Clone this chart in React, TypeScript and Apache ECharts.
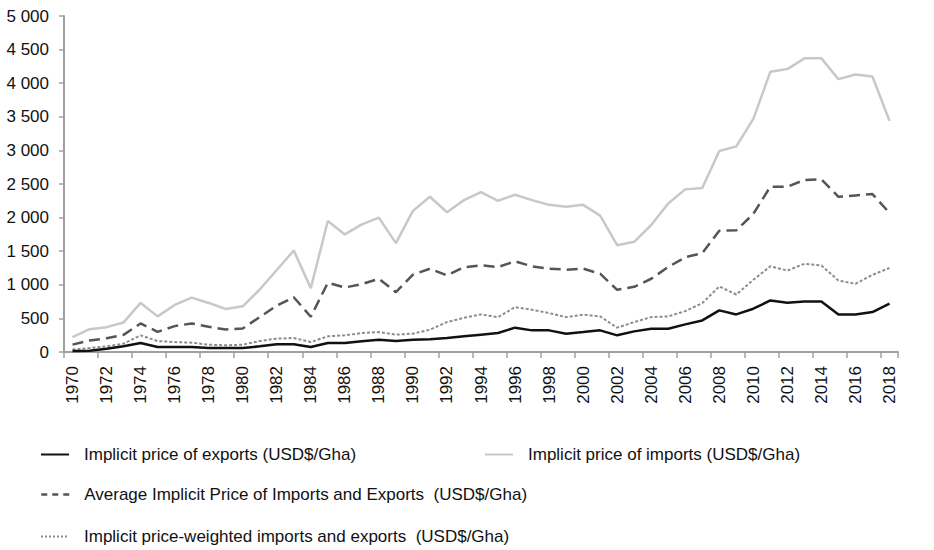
import React, { useEffect, useRef } from "react";
import * as echarts from "echarts";

const years: string[] = [];
for (let y = 1970; y <= 2018; y++) years.push(String(y));

const exportsPrice = [15, 20, 50, 85, 134, 74, 74, 74, 59, 59, 59, 85, 114, 114, 74,
  134, 134, 159, 184, 163, 184, 189, 208, 233, 258, 282, 362, 322, 322, 273, 297, 322,
  248, 307, 347, 347, 411, 470, 619, 559, 644, 767, 733, 752, 752, 559, 559, 594, 720];

const importsPrice = [220, 340, 370, 440, 730, 530, 700, 810, 730, 640, 680, 930, 1220, 1510, 950,
  1950, 1750, 1900, 2000, 1620, 2100, 2310, 2080, 2260, 2380, 2250, 2340, 2260, 2190, 2160, 2190, 2030,
  1590, 1640, 1890, 2210, 2420, 2440, 2990, 3060, 3470, 4170, 4210, 4370, 4370, 4060, 4130, 4100, 3440];

const averagePrice = [110, 170, 205, 255, 425, 300, 385, 425, 375, 335, 350, 520, 690, 815, 525,
  1030, 960, 1010, 1090, 890, 1150, 1240, 1140, 1260, 1290, 1265, 1350, 1275, 1240, 1225, 1240, 1165,
  925, 970, 1090, 1265, 1410, 1470, 1805, 1810, 2055, 2460, 2460, 2560, 2570, 2310, 2330, 2350, 2070];

const weightedPrice = [36, 59, 85, 124, 248, 163, 148, 139, 109, 99, 109, 163, 199, 208, 148,
  233, 248, 282, 297, 258, 273, 332, 445, 510, 559, 519, 668, 629, 579, 519, 555, 530,
  362, 445, 519, 530, 608, 727, 975, 856, 1074, 1276, 1212, 1312, 1287, 1064, 1015, 1149, 1250];

const seriesNames = [
  "Implicit price of exports (USD$/Gha)",
  "Implicit price of imports (USD$/Gha)",
  "Average Implicit Price of Imports and Exports  (USD$/Gha)",
  "Implicit price-weighted imports and exports  (USD$/Gha)",
];

const FONT = "'Liberation Sans', Arial, sans-serif";

function fmt(v: number): string {
  const s = String(v);
  if (s.length > 3) return s.slice(0, s.length - 3) + " " + s.slice(s.length - 3);
  return s;
}

export default function App() {
  const ref = useRef<HTMLDivElement>(null);
  useEffect(() => {
    if (!ref.current) return;
    const chart = echarts.init(ref.current, undefined, { renderer: "svg" });
    const legendText = { fontFamily: FONT, fontSize: 17, color: "#111", padding: [0, 0, 0, 10] };
    const mkLegend = (name: string, left: number, top: number, lineStyle?: any) => ({
      data: [name],
      left,
      top,
      orient: "horizontal",
      padding: 0,
      itemWidth: 28,
      itemHeight: 14,
      itemGap: 10,
      textStyle: legendText,
      itemStyle: { opacity: 0 },
      ...(lineStyle ? { lineStyle } : {}),
      selectedMode: false,
    });
    chart.setOption({
      animation: false,
      backgroundColor: "#fff",
      grid: { left: 64, right: 36, top: 16, bottom: 198, containLabel: false },
      legend: [
        mkLegend(seriesNames[0], 40, 446),
        mkLegend(seriesNames[1], 484, 446),
        mkLegend(seriesNames[2], 40, 486, { type: [6, 5], width: 2.5 }),
        mkLegend(seriesNames[3], 40, 528, { type: [2, 2], width: 2 }),
      ],
      xAxis: {
        type: "category",
        data: years,
        boundaryGap: true,
        axisLine: { show: true, lineStyle: { color: "#a0a0a0", width: 2 } },
        axisTick: { show: true, interval: 1, length: 6, lineStyle: { color: "#a0a0a0", width: 1.5 } },
        axisLabel: {
          interval: 1,
          rotate: 90,
          margin: 14,
          fontFamily: FONT,
          fontSize: 17,
          color: "#111",
        },
      },
      yAxis: {
        type: "value",
        min: 0,
        max: 5000,
        interval: 500,
        splitLine: { show: false },
        axisLine: { show: true, lineStyle: { color: "#a0a0a0", width: 2 } },
        axisTick: { show: true, length: 5, lineStyle: { color: "#a0a0a0", width: 1.5 } },
        axisLabel: {
          margin: 15,
          fontFamily: FONT,
          fontSize: 17,
          color: "#111",
          formatter: (v: number) => fmt(v),
        },
      },
      series: [
        {
          name: seriesNames[1],
          type: "line",
          data: importsPrice,
          symbol: "none",
          z: 1,
          lineStyle: { color: "#c8c8c8", width: 2.5 },
          itemStyle: { color: "#c8c8c8" },
        },
        {
          name: seriesNames[2],
          type: "line",
          data: averagePrice,
          symbol: "none",
          z: 2,
          lineStyle: { color: "#555", width: 2.5, type: [11, 6] },
          itemStyle: { color: "#555" },
        },
        {
          name: seriesNames[3],
          type: "line",
          data: weightedPrice,
          symbol: "none",
          z: 3,
          lineStyle: { color: "#8c8c8c", width: 2, type: [3, 2] },
          itemStyle: { color: "#8c8c8c" },
        },
        {
          name: seriesNames[0],
          type: "line",
          data: exportsPrice,
          symbol: "none",
          z: 4,
          lineStyle: { color: "#111", width: 2.5 },
          itemStyle: { color: "#111" },
        },
      ],
    });
    return () => chart.dispose();
  }, []);
  return <div ref={ref} style={{ position: "absolute", left: 0, top: 0, width: 934, height: 550 }} />;
}
